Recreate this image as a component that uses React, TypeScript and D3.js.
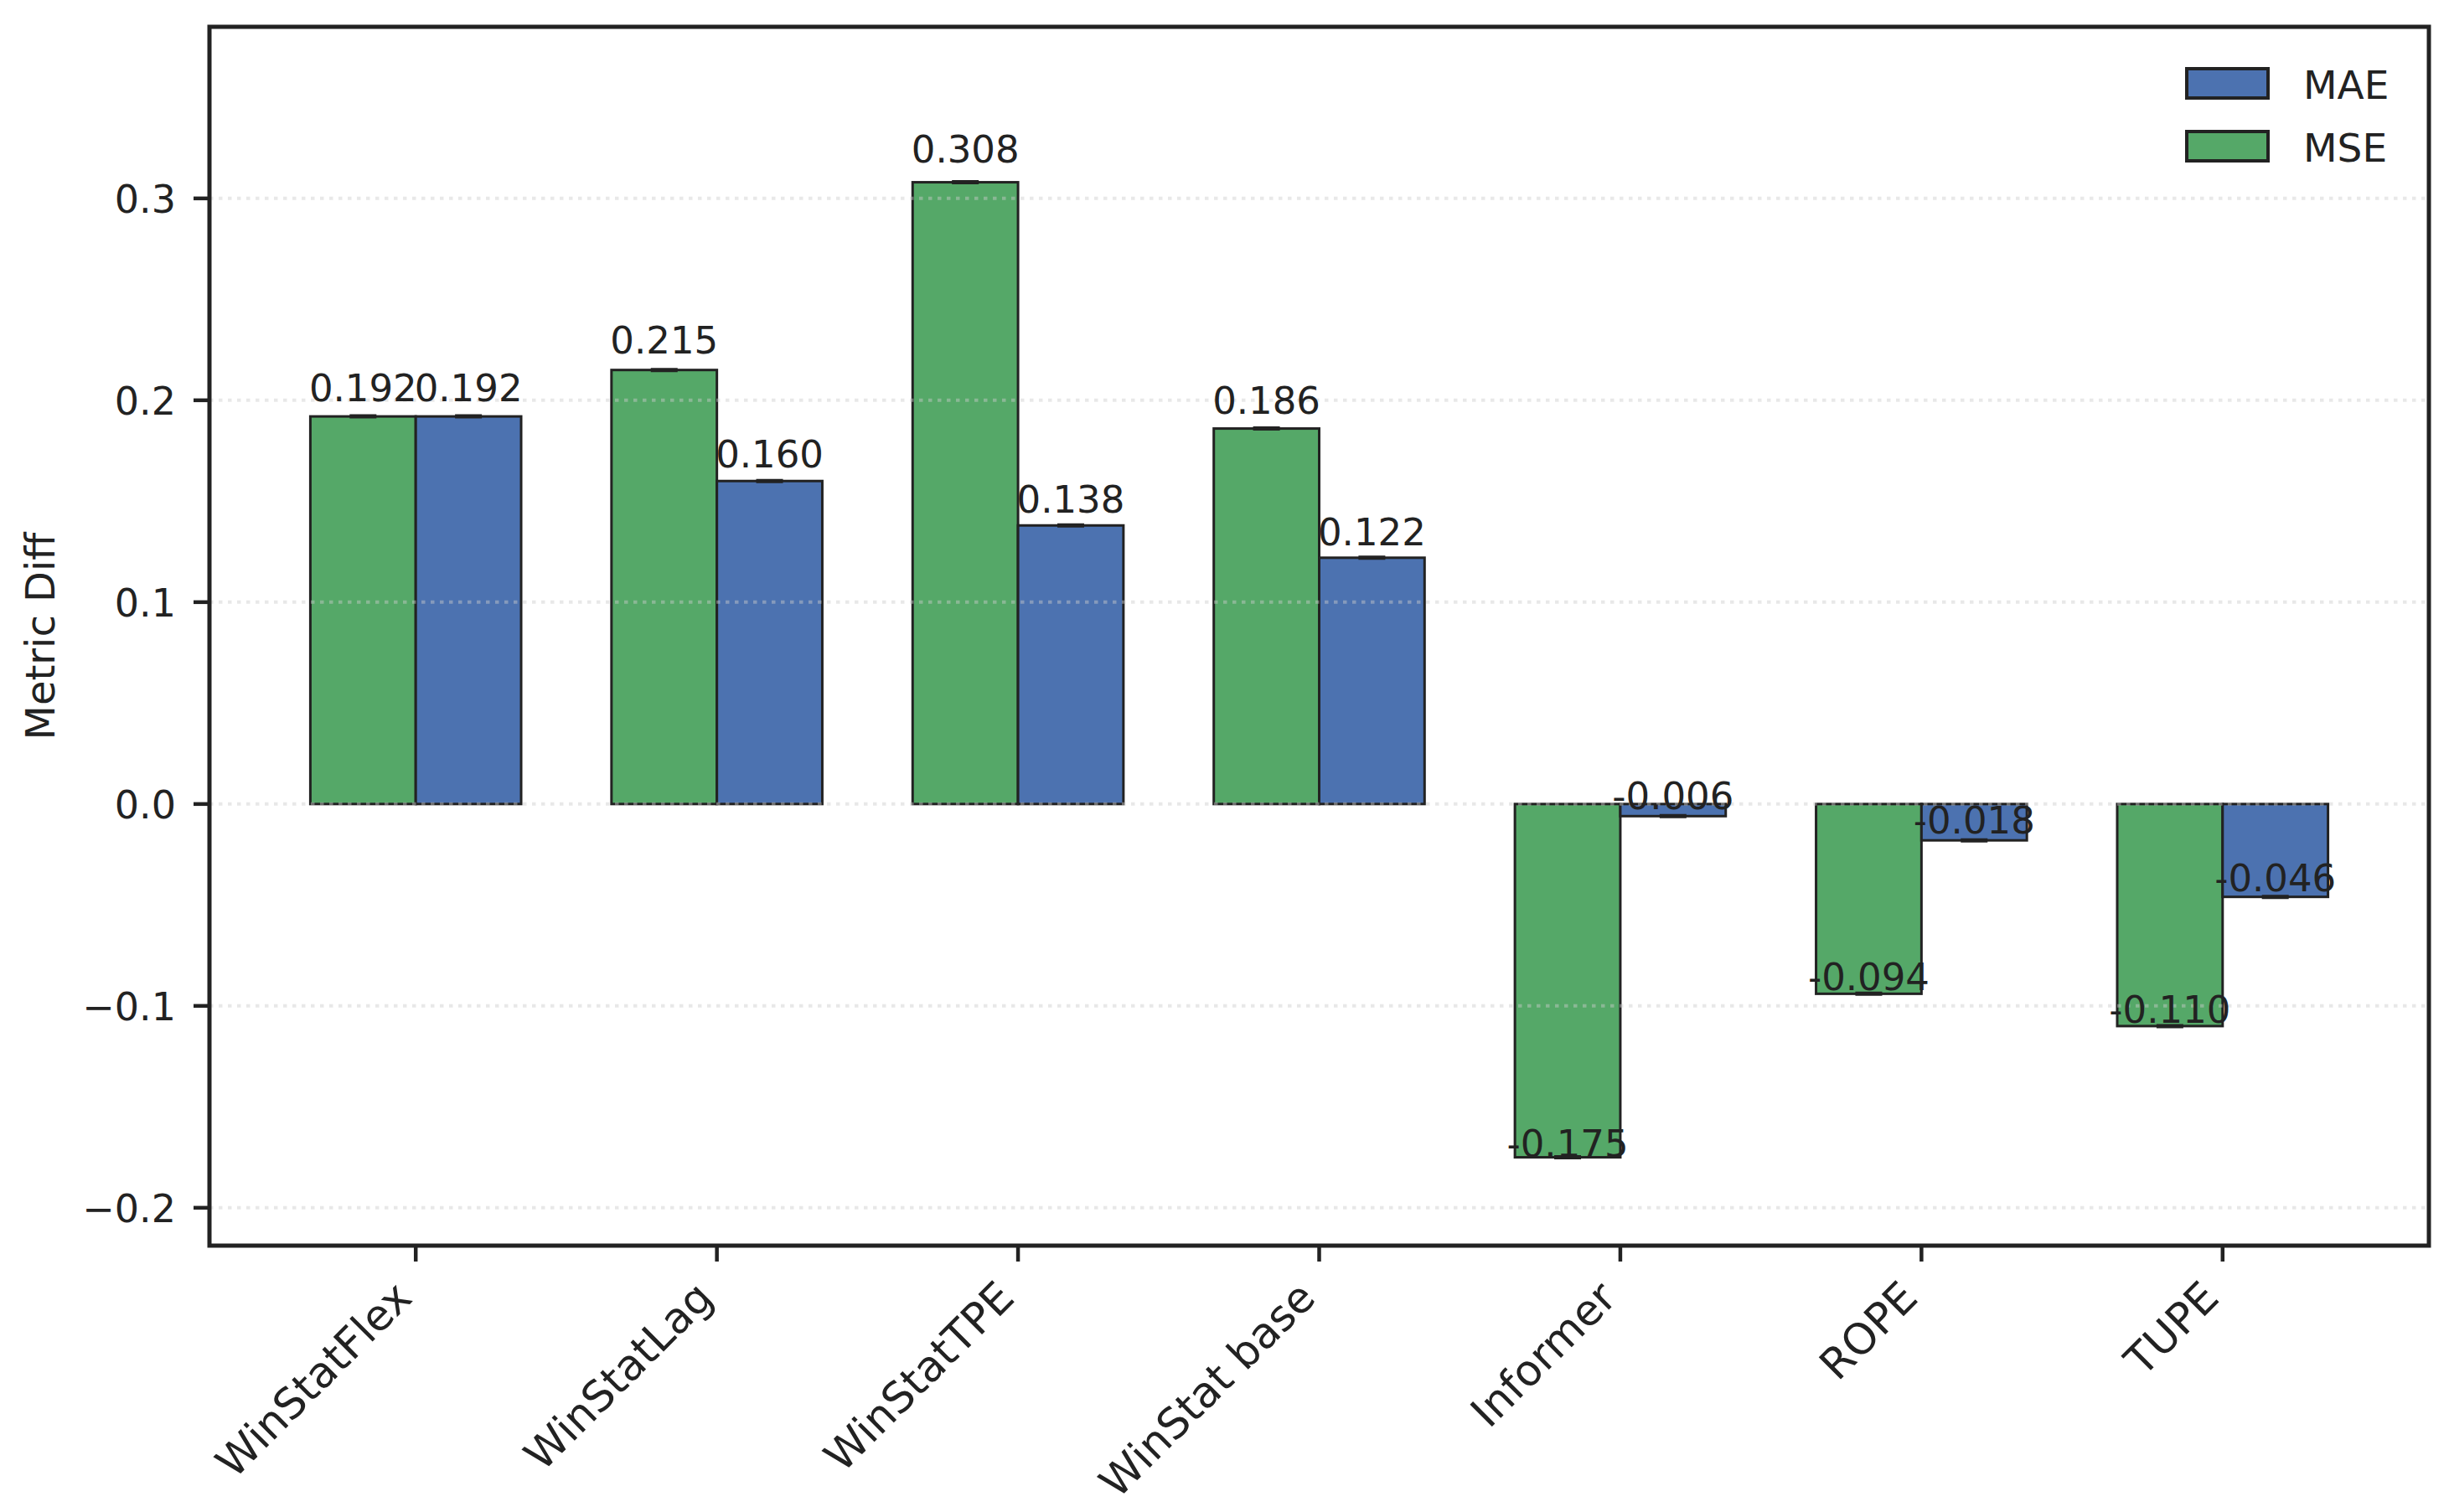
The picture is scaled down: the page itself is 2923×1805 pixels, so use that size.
import React, { useEffect, useRef } from 'react';
import * as d3 from 'd3';

const categories = ['WinStatFlex', 'WinStatLag', 'WinStatTPE', 'WinStat base', 'Informer', 'ROPE', 'TUPE'];
const mseValues = [0.192, 0.215, 0.308, 0.186, -0.175, -0.094, -0.110];
const maeValues = [0.192, 0.160, 0.138, 0.122, -0.006, -0.018, -0.046];
const yTicks = [-0.2, -0.1, 0.0, 0.1, 0.2, 0.3];
const seriesNames = ['MAE', 'MSE'];

const W = 2923;
const H = 1805;
const FONT = '"DejaVu Sans", sans-serif';
const INK = '#222222';
const GREEN = '#55A868';
const BLUE = '#4C72B0';

export default function App() {
  const ref = useRef<SVGSVGElement>(null);

  useEffect(() => {
    if (!ref.current) return;
    const svg = d3.select(ref.current);
    svg.selectAll('*').remove();

    const left = 250, right = 2899, top = 32, bottom = 1487;
    const barW = 0.35;

    const x = d3.scaleLinear().domain([-0.685, categories.length - 1 + 0.685]).range([left, right]);
    const y = d3.scaleLinear().domain([-0.175 * 1.25, 0.308 * 1.25]).range([bottom, top]);
    const px = (u: number) => x(u) - x(0);

    const rows = categories.map((c, i) => ({ c, i, mse: mseValues[i], mae: maeValues[i] }));
    const bars = rows.flatMap(r => [
      { i: r.i, v: r.mse, off: -barW / 2, color: GREEN },
      { i: r.i, v: r.mae, off: barW / 2, color: BLUE },
    ]);

    svg.append('rect').attr('width', W).attr('height', H).attr('fill', 'white');

    // Bars
    svg.append('g').selectAll('rect')
      .data(bars)
      .enter()
      .append('rect')
      .attr('x', d => x(d.i + d.off - barW / 2))
      .attr('width', px(barW))
      .attr('y', d => Math.min(y(d.v), y(0)))
      .attr('height', d => Math.abs(y(d.v) - y(0)))
      .attr('fill', d => d.color)
      .attr('stroke', INK)
      .attr('stroke-width', 3);

    // Error bar caps
    svg.append('g').selectAll('line')
      .data(bars)
      .enter()
      .append('line')
      .attr('x1', d => x(d.i + d.off) - 16)
      .attr('x2', d => x(d.i + d.off) + 16)
      .attr('y1', d => y(d.v))
      .attr('y2', d => y(d.v))
      .attr('stroke', INK)
      .attr('stroke-width', 5);

    // Grid (drawn above bars)
    svg.append('g').selectAll('line')
      .data(yTicks)
      .enter()
      .append('line')
      .attr('x1', left)
      .attr('x2', right)
      .attr('y1', d => y(d))
      .attr('y2', d => y(d))
      .attr('stroke', '#cbcbcb')
      .attr('stroke-opacity', 0.45)
      .attr('stroke-width', 4)
      .attr('stroke-dasharray', '4.5 6.5');

    // Value labels, placed just past the bar end (h * 1.02, bottom aligned)
    svg.append('g').selectAll('text')
      .data(bars)
      .enter()
      .append('text')
      .attr('x', d => x(d.i + d.off))
      .attr('y', d => y(d.v * 1.02) - 9)
      .attr('text-anchor', 'middle')
      .attr('font-family', FONT)
      .attr('font-size', 45)
      .attr('fill', INK)
      .text(d => d.v.toFixed(3));

    // Y axis ticks and labels
    const yAxis = svg.append('g');
    yAxis.selectAll('line')
      .data(yTicks)
      .enter()
      .append('line')
      .attr('x1', left - 19)
      .attr('x2', left)
      .attr('y1', d => y(d))
      .attr('y2', d => y(d))
      .attr('stroke', INK)
      .attr('stroke-width', 4.5);
    yAxis.selectAll('text')
      .data(yTicks)
      .enter()
      .append('text')
      .attr('x', left - 40)
      .attr('y', d => y(d) + 17)
      .attr('text-anchor', 'end')
      .attr('font-family', FONT)
      .attr('font-size', 46)
      .attr('fill', INK)
      .text(d => d3.format('.1f')(d).replace('-', '\u2212'));

    svg.append('text')
      .attr('transform', `translate(65,${(top + bottom) / 2}) rotate(-90)`)
      .attr('text-anchor', 'middle')
      .attr('font-family', FONT)
      .attr('font-size', 48)
      .attr('fill', INK)
      .text('Metric Diff');

    // X axis ticks and labels
    const xAxis = svg.append('g');
    xAxis.selectAll('line')
      .data(rows)
      .enter()
      .append('line')
      .attr('x1', d => x(d.i))
      .attr('x2', d => x(d.i))
      .attr('y1', bottom)
      .attr('y2', bottom + 19)
      .attr('stroke', INK)
      .attr('stroke-width', 4.5);
    xAxis.selectAll('text')
      .data(rows)
      .enter()
      .append('text')
      .attr('transform', d => `translate(${x(d.i) - 2},${bottom + 65}) rotate(-45)`)
      .attr('text-anchor', 'end')
      .attr('font-family', FONT)
      .attr('font-size', 51)
      .attr('fill', INK)
      .text(d => d.c);

    // Frame
    svg.append('rect')
      .attr('x', left)
      .attr('y', top)
      .attr('width', right - left)
      .attr('height', bottom - top)
      .attr('fill', 'none')
      .attr('stroke', INK)
      .attr('stroke-width', 5);

    // Legend
    const legend = svg.append('g').selectAll('g')
      .data(seriesNames)
      .enter()
      .append('g')
      .attr('transform', (_d, i) => `translate(0,${i * 75})`);
    legend.append('rect')
      .attr('x', 2610)
      .attr('y', 82)
      .attr('width', 97)
      .attr('height', 35)
      .attr('fill', d => (d === 'MAE' ? BLUE : GREEN))
      .attr('stroke', INK)
      .attr('stroke-width', 4);
    legend.append('text')
      .attr('x', 2749)
      .attr('y', 118)
      .attr('font-family', FONT)
      .attr('font-size', 47)
      .attr('fill', INK)
      .text(d => d);
  }, []);

  return (
    <svg
      ref={ref}
      width={W}
      height={H}
      style={{ position: 'absolute', left: 0, top: 0, display: 'block' }}
    />
  );
}
